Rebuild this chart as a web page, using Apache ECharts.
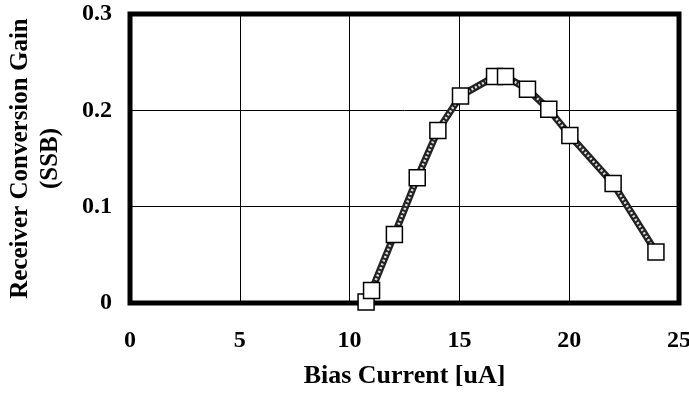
<!DOCTYPE html>
<html><head><meta charset="utf-8">
<script src="https://cdn.jsdelivr.net/npm/echarts@6/dist/echarts.min.js"></script>
<style>html,body{margin:0;padding:0;background:#fff}#c{width:689px;height:400px}</style>
</head><body><div id="c"></div>
<script>
const biasCurrent = [10.75, 11.0, 12.04, 13.08, 14.02, 15.05, 16.6, 17.1, 18.1, 19.07, 20.03, 22.0, 23.95];
const gain = [0.001, 0.013, 0.071, 0.130, 0.179, 0.215, 0.235, 0.235, 0.222, 0.201, 0.174, 0.124, 0.053];
const xTicks = [0, 5, 10, 15, 20, 25];
const yTicks = [0, 0.1, 0.2, 0.3];
const xTitle = 'Bias Current [uA]';
const yTitle = 'Receiver Conversion Gain\n(SSB)';

const pts = biasCurrent.map((x, i) => [x, gain[i]]);
const font = '"Liberation Serif", "Times New Roman", serif';
const chart = echarts.init(document.getElementById('c'));
chart.setOption({
  animation: false,
  grid: { left: 130, right: 10, top: 14, bottom: 97, show: true, borderColor: '#000', borderWidth: 5,
          outerBoundsMode: 'none', containLabel: false },
  xAxis: {
    type: 'value', min: xTicks[0], max: xTicks[xTicks.length - 1], interval: 5,
    axisLine: { show: false }, axisTick: { show: false },
    splitLine: { lineStyle: { color: '#000', width: 1 } },
    axisLabel: { color: '#000', fontFamily: font, fontWeight: 'bold', fontSize: 24, margin: 26 },
    name: xTitle, nameLocation: 'middle', nameGap: 60,
    nameTextStyle: { color: '#000', fontFamily: font, fontWeight: 'bold', fontSize: 26 }
  },
  yAxis: {
    type: 'value', min: yTicks[0], max: yTicks[yTicks.length - 1], interval: 0.1,
    axisLine: { show: false }, axisTick: { show: false },
    splitLine: { lineStyle: { color: '#000', width: 1 } },
    axisLabel: { color: '#000', fontFamily: font, fontWeight: 'bold', fontSize: 24, margin: 18,
      formatter: v => v === 0 ? '0' : v.toFixed(1) },
    name: yTitle, nameLocation: 'middle', nameGap: 64,
    nameTextStyle: { color: '#000', fontFamily: font, fontWeight: 'bold', fontSize: 25, lineHeight: 30 }
  },
  series: [
    { type: 'line', data: pts, showSymbol: false, lineStyle: { color: '#222', width: 7 }, z: 2 },
    { type: 'line', data: pts, showSymbol: false, lineStyle: { color: '#ddd', width: 2.5, type: [2, 2] }, z: 3 },
    { type: 'scatter', data: pts, symbol: 'rect', symbolSize: 16,
      itemStyle: { color: '#fff', borderColor: '#000', borderWidth: 1.5, opacity: 1 }, z: 4 }
  ]
});
</script></body></html>
